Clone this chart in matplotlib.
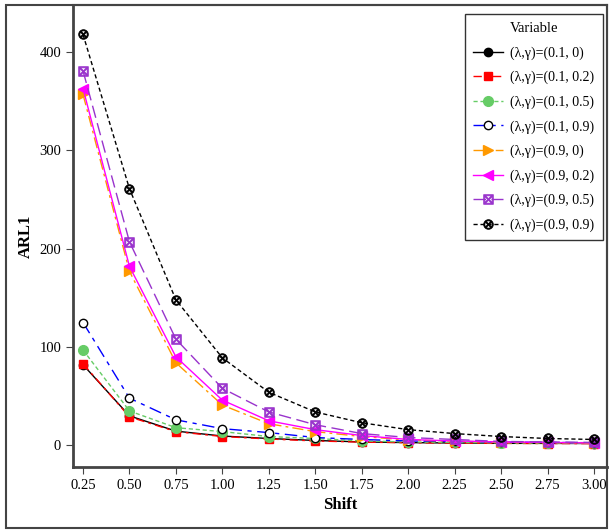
import matplotlib.pyplot as plt
from matplotlib.patches import Rectangle

shift = [0.25, 0.50, 0.75, 1.00, 1.25, 1.50, 1.75, 2.00, 2.25, 2.50, 2.75, 3.00]
xticklabels = ['0.25', '0.50', '0.75', '1.00', '1.25', '1.50', '1.75', '2.00', '2.25', '2.50', '2.75', '3.00']

arl_01_0 = [82, 30, 14.5, 9.5, 7, 5, 3.5, 2.8, 2.4, 2.1, 2.0, 1.9]
arl_01_02 = [83, 29, 14, 9, 6.5, 4.5, 3.3, 2.7, 2.3, 2.0, 1.9, 1.8]
arl_01_05 = [97, 35, 18, 14, 9, 7, 4.5, 3.5, 3.0, 2.6, 2.4, 2.2]
arl_01_09 = [125, 48, 26, 17, 13, 8, 6, 4.5, 4.0, 3.5, 3.0, 2.7]
arl_09_0 = [357, 177, 84, 41, 22, 14, 9, 5.5, 4.2, 3.3, 2.8, 2.4]
arl_09_02 = [363, 182, 90, 46, 25, 16, 10, 6, 4.5, 3.5, 3.0, 2.5]
arl_09_05 = [381, 207, 108, 58, 34, 21, 12, 8, 6, 4, 3.5, 3]
arl_09_09 = [418, 261, 148, 89, 54, 34, 23, 16, 12, 9, 7, 6]

labels = ['(λ,γ)=(0.1, 0)', '(λ,γ)=(0.1, 0.2)', '(λ,γ)=(0.1, 0.5)', '(λ,γ)=(0.1, 0.9)',
          '(λ,γ)=(0.9, 0)', '(λ,γ)=(0.9, 0.2)', '(λ,γ)=(0.9, 0.5)', '(λ,γ)=(0.9, 0.9)']

plt.rcParams['font.family'] = ['Liberation Serif', 'DejaVu Serif']
plt.rcParams['mathtext.fontset'] = 'dejavuserif'

fig = plt.figure(figsize=(6.09, 5.30), dpi=100)
ax = fig.add_axes([73/609, 63/530, 534/609, 462/530])

# figure outer frame
fig.patches.append(Rectangle((6/609, 2/530), 601/609, 523/530, transform=fig.transFigure,
                             fill=False, edgecolor='#444444', linewidth=1.5))

ax.plot(shift, arl_01_0, color='black', linestyle='-', marker='o', markersize=6, linewidth=1, label=labels[0])
ax.plot(shift, arl_01_02, color='red', linestyle=(0, (6, 3, 2, 3)), marker='s', markersize=6, linewidth=1, label=labels[1])
ax.plot(shift, arl_01_05, color='#66cc66', linestyle=(0, (3, 2)), marker='o', markersize=7, linewidth=1, label=labels[2])
ax.plot(shift, arl_01_09, color='blue', linestyle=(0, (9, 4, 3, 4)), marker='o', markersize=6,
        markerfacecolor='white', markeredgecolor='black', linewidth=1, label=labels[3])
ax.plot(shift, arl_09_0, color='#ff9900', linestyle=(0, (8, 3, 2, 3)), marker='>', markersize=7, linewidth=1, label=labels[4])
ax.plot(shift, arl_09_02, color='magenta', linestyle='-', marker='<', markersize=7, linewidth=1, label=labels[5])
ax.plot(shift, arl_09_05, color='#9933cc', linestyle=(0, (9, 4)), marker='$\\boxtimes$', markersize=7,
        markeredgewidth=0.5, linewidth=1, label=labels[6])
ax.plot(shift, arl_09_09, color='black', linestyle=(0, (3, 2)), marker='$\\otimes$', markersize=7,
        markeredgewidth=0.5, linewidth=1, label=labels[7])

ax.set_xlim(0.196, 3.07)
ax.set_ylim(-22, 448)
ax.set_xticks(shift)
ax.set_xticklabels(xticklabels)
ax.set_yticks([0, 100, 200, 300, 400])
ax.tick_params(labelsize=10.5, length=5, color='#444444')
for s in ax.spines.values():
    s.set_color('#444444')
    s.set_linewidth(1.5)
ax.spines['left'].set_linewidth(2)
ax.spines['bottom'].set_linewidth(2)

ax.set_xlabel('Shift', fontsize=12, fontweight='bold')
ax.set_ylabel('ARL1', fontsize=12, fontweight='bold')

leg = ax.legend(title='Variable', loc='upper right', bbox_to_anchor=(1.0, 0.99), fontsize=10,
                title_fontsize=10.5, frameon=True, fancybox=False, edgecolor='black',
                handlelength=2.2, handletextpad=0.5, labelspacing=0.8, borderpad=0.6,
                borderaxespad=0.3)
leg.get_frame().set_linewidth(1)

fig.savefig('out.png', dpi=100)
